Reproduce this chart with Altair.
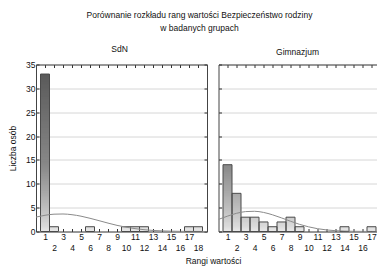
import altair as alt
import numpy as np
import pandas as pd

# ---- data ----
ranks = list(range(1, 19))
sdn_counts = [33, 1, 0, 0, 0, 1, 0, 0, 0, 1, 1, 1, 0, 0, 0, 0, 1, 1]
gim_counts = [14, 8, 3, 3, 2, 1, 2, 3, 1, 0, 0, 0, 0, 1, 0, 0, 1, 0]

curve_x = list(range(0, 20))
sdn_curve = [3.02, 3.40, 3.63, 3.67, 3.52, 3.21, 2.77, 2.27, 1.76, 1.29,
             0.91, 0.60, 0.38, 0.22, 0.13, 0.07, 0.03, 0.02, 0.01, 0.0]
gim_curve = [2.54, 3.22, 3.81, 4.17, 4.24, 4.00, 3.50, 2.85, 2.15, 1.50,
             0.98, 0.59, 0.33, 0.17, 0.08, 0.04, 0.02, 0.01, 0.0, 0.0]

y_ticks = [0, 5, 10, 15, 20, 25, 30, 35]
grey_levels = [0, 1, 3, 8, 14, 33]
grey_colors = ["#e8e8e8", "#dcdcdc", "#cbcbcb", "#aaaaaa", "#888888", "#5a5a5a"]

main_title = "Porównanie rozkładu rang  wartości Bezpieczeństwo rodziny"
main_subtitle = "w badanych grupach"
panel_titles = ["SdN", "Gimnazjum"]
y_title = "Liczba osób"
x_title = "Rangi wartości"

FONT = "Liberation Sans"
FS = 8.5
STEP = 0.25
FRAME = "#444444"


def bar_tables(counts):
    rows, slices = [], []
    for r, c in zip(ranks, counts):
        if c <= 0:
            continue
        rows.append({"x0": r - 0.5, "x1": r + 0.5, "count": c})
        for top in np.arange(STEP, c + 1e-9, STEP):
            slices.append({"x0": r - 0.5, "x1": r + 0.5, "top": float(top),
                           "level": float(top) - STEP / 2})
    sl = pd.DataFrame(slices).sort_values("top", ascending=False)
    return pd.DataFrame(rows), sl


yscale = alt.Scale(domain=[0, 35], nice=False)


def panel(counts, curve, title, first):
    bars, slices = bar_tables(counts)
    cdf = pd.DataFrame({"cx": curve_x, "cy": curve})
    width = 171 if first else 158
    xscale = alt.Scale(domain=[0, width / 9.0], nice=False, zero=False)

    xaxis = alt.Axis(
        values=ranks,
        labelExpr="datum.value % 2 == 0 ? ['', datum.label] : datum.label",
        grid=False, labelFlush=False, labelOverlap=False,
        labelFont=FONT, labelFontSize=FS, labelColor="#111",
        labelLineHeight=11, labelPadding=4,
        tickSize={"expr": "-3"}, tickColor="#333",
        domainColor=FRAME,
        title=x_title if first else None,
        titleFont=FONT, titleFontSize=FS, titleFontWeight="normal",
        titleColor="#111", titleX=177, titleY=29, titleBaseline="middle",
    )
    yaxis = alt.Axis(
        values=y_ticks, grid=True, gridColor="#d6d6d6",
        labels=first, labelFont=FONT, labelFontSize=FS, labelColor="#111",
        labelPadding=4,
        tickSize={"expr": "-3"}, tickColor="#333", domainColor=FRAME,
        title=y_title if first else None,
        titleFont=FONT, titleFontSize=FS, titleFontWeight="normal",
        titleColor="#111", titlePadding=8,
    )
    xtop = alt.Axis(orient="top", values=ranks, labels=False, grid=False,
                    tickSize={"expr": "-3"}, tickColor="#333",
                    domainColor=FRAME, title=None)
    yright = alt.Axis(orient="right", values=y_ticks, labels=False,
                      grid=False, tickSize={"expr": "-3"}, tickColor="#333",
                      domainColor=FRAME, title=None)

    sl = alt.Chart(slices).mark_rect(strokeWidth=0).encode(
        x=alt.X("x0:Q", scale=xscale, axis=xaxis),
        x2="x1",
        y=alt.Y("top:Q", scale=yscale, axis=yaxis),
        y2=alt.datum(0),
        fill=alt.Fill("level:Q", legend=None,
                      scale=alt.Scale(domain=grey_levels, range=grey_colors,
                                      interpolate="rgb")),
    )
    outline = alt.Chart(bars).mark_rect(
        fillOpacity=0, stroke="#4a4a4a", strokeWidth=1
    ).encode(
        x=alt.X("x0:Q", scale=xscale, axis=None),
        x2="x1",
        y=alt.Y("count:Q", scale=yscale, axis=None),
        y2=alt.datum(0),
    )
    line = alt.Chart(cdf).mark_line(
        color="#8a8a8a", strokeWidth=1, interpolate="monotone", clip=True
    ).encode(
        x=alt.X("cx:Q", scale=xscale, axis=None),
        y=alt.Y("cy:Q", scale=yscale, axis=None),
    )
    mirror = alt.Chart(cdf).mark_point(opacity=0, clip=True).encode(
        x=alt.X("cx:Q", scale=xscale, axis=xtop),
        y=alt.Y("cy:Q", scale=yscale, axis=yright if first else None),
    )
    dx = -2 if first else 0
    return alt.layer(sl, outline, line, mirror).resolve_axis(
        x="independent", y="independent"
    ).properties(
        width=width, height=167,
        view=alt.ViewBackground(stroke=None),
        title=alt.TitleParams(title, font=FONT, fontSize=FS,
                              fontWeight="normal", color="#111",
                              offset=7.5, dx=dx),
    )


left = panel(sdn_counts, sdn_curve, panel_titles[0], True)
right = panel(gim_counts, gim_curve, panel_titles[1], False)

chart = alt.hconcat(left, right, spacing=11.5, bounds="flush").properties(
    title=alt.TitleParams(main_title, subtitle=main_subtitle,
                          anchor="middle", font=FONT, subtitleFont=FONT,
                          fontSize=FS, subtitleFontSize=FS,
                          fontWeight="normal", color="#111",
                          subtitleColor="#111", subtitlePadding=5,
                          offset=12, dx=7),
    padding={"left": 0, "top": 2.5, "right": 0, "bottom": 0},
).configure_view(stroke=None)

chart.save("out.html", embed_options={"renderer": "svg", "actions": False})
